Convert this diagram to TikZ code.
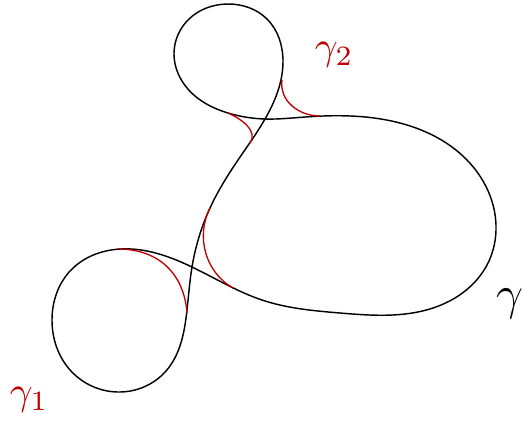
\documentclass[tikz,border=0pt]{standalone}
\usetikzlibrary{hobby}
\definecolor{smoothred}{RGB}{192,0,0}
\begin{document}
\begin{tikzpicture}[x=0.25pt,y=-0.25pt,
  curveline/.style={line width=0.36pt,black},
  fillet/.style={line width=0.33pt,smoothred},
  lab/.style={inner sep=0pt,anchor=base west}]
\useasboundingbox (0,0) rectangle (523,421);
% main curve gamma
\draw[curveline,use Hobby shortcut,closed=true]
  (120,249) .. (192,267) .. (262,300) .. (340,313) .. (433,308)
  .. (487,265) .. (496,225) .. (467,160) .. (396,122) .. (305,117)
  .. (265,119) .. (228,113) .. (195,96) .. (174,53) .. (189,19)
  .. (228,4) .. (267,19) .. (283,62) .. (265,119) .. (238,160)
  .. (210,208) .. (192,267) .. (187,310) .. (166,371) .. (119,392)
  .. (71,371) .. (52,320) .. (71,270);
% smoothings
\coordinate (a1) at (118,249); \coordinate (b1) at (187,313);
\coordinate (a2) at (210,208); \coordinate (b2) at (233,288);
\coordinate (a3) at (282,80);  \coordinate (b3) at (320,116);
\coordinate (a4) at (228,113); \coordinate (b4) at (250,143);
\draw[fillet] (a1) .. controls (158,249) and (184,273) .. (b1);
\draw[fillet] (a2) .. controls (195.5,236.4) and (205.3,272.2) .. (b2);
\draw[fillet] (a3) .. controls (279,101) and (299,116) .. (b3);
\draw[fillet] (a4) .. controls (241.6,119.1) and (258.2,130.6) .. (b4);
% labels
\node[lab,text=smoothred] (g1) at (9,404) {$\gamma_1$};
\node[lab,text=smoothred] (g2) at (314,59) {$\gamma_2$};
\node[lab,font=\large] (g) at (496,309) {$\gamma$};
\end{tikzpicture}
\end{document}
